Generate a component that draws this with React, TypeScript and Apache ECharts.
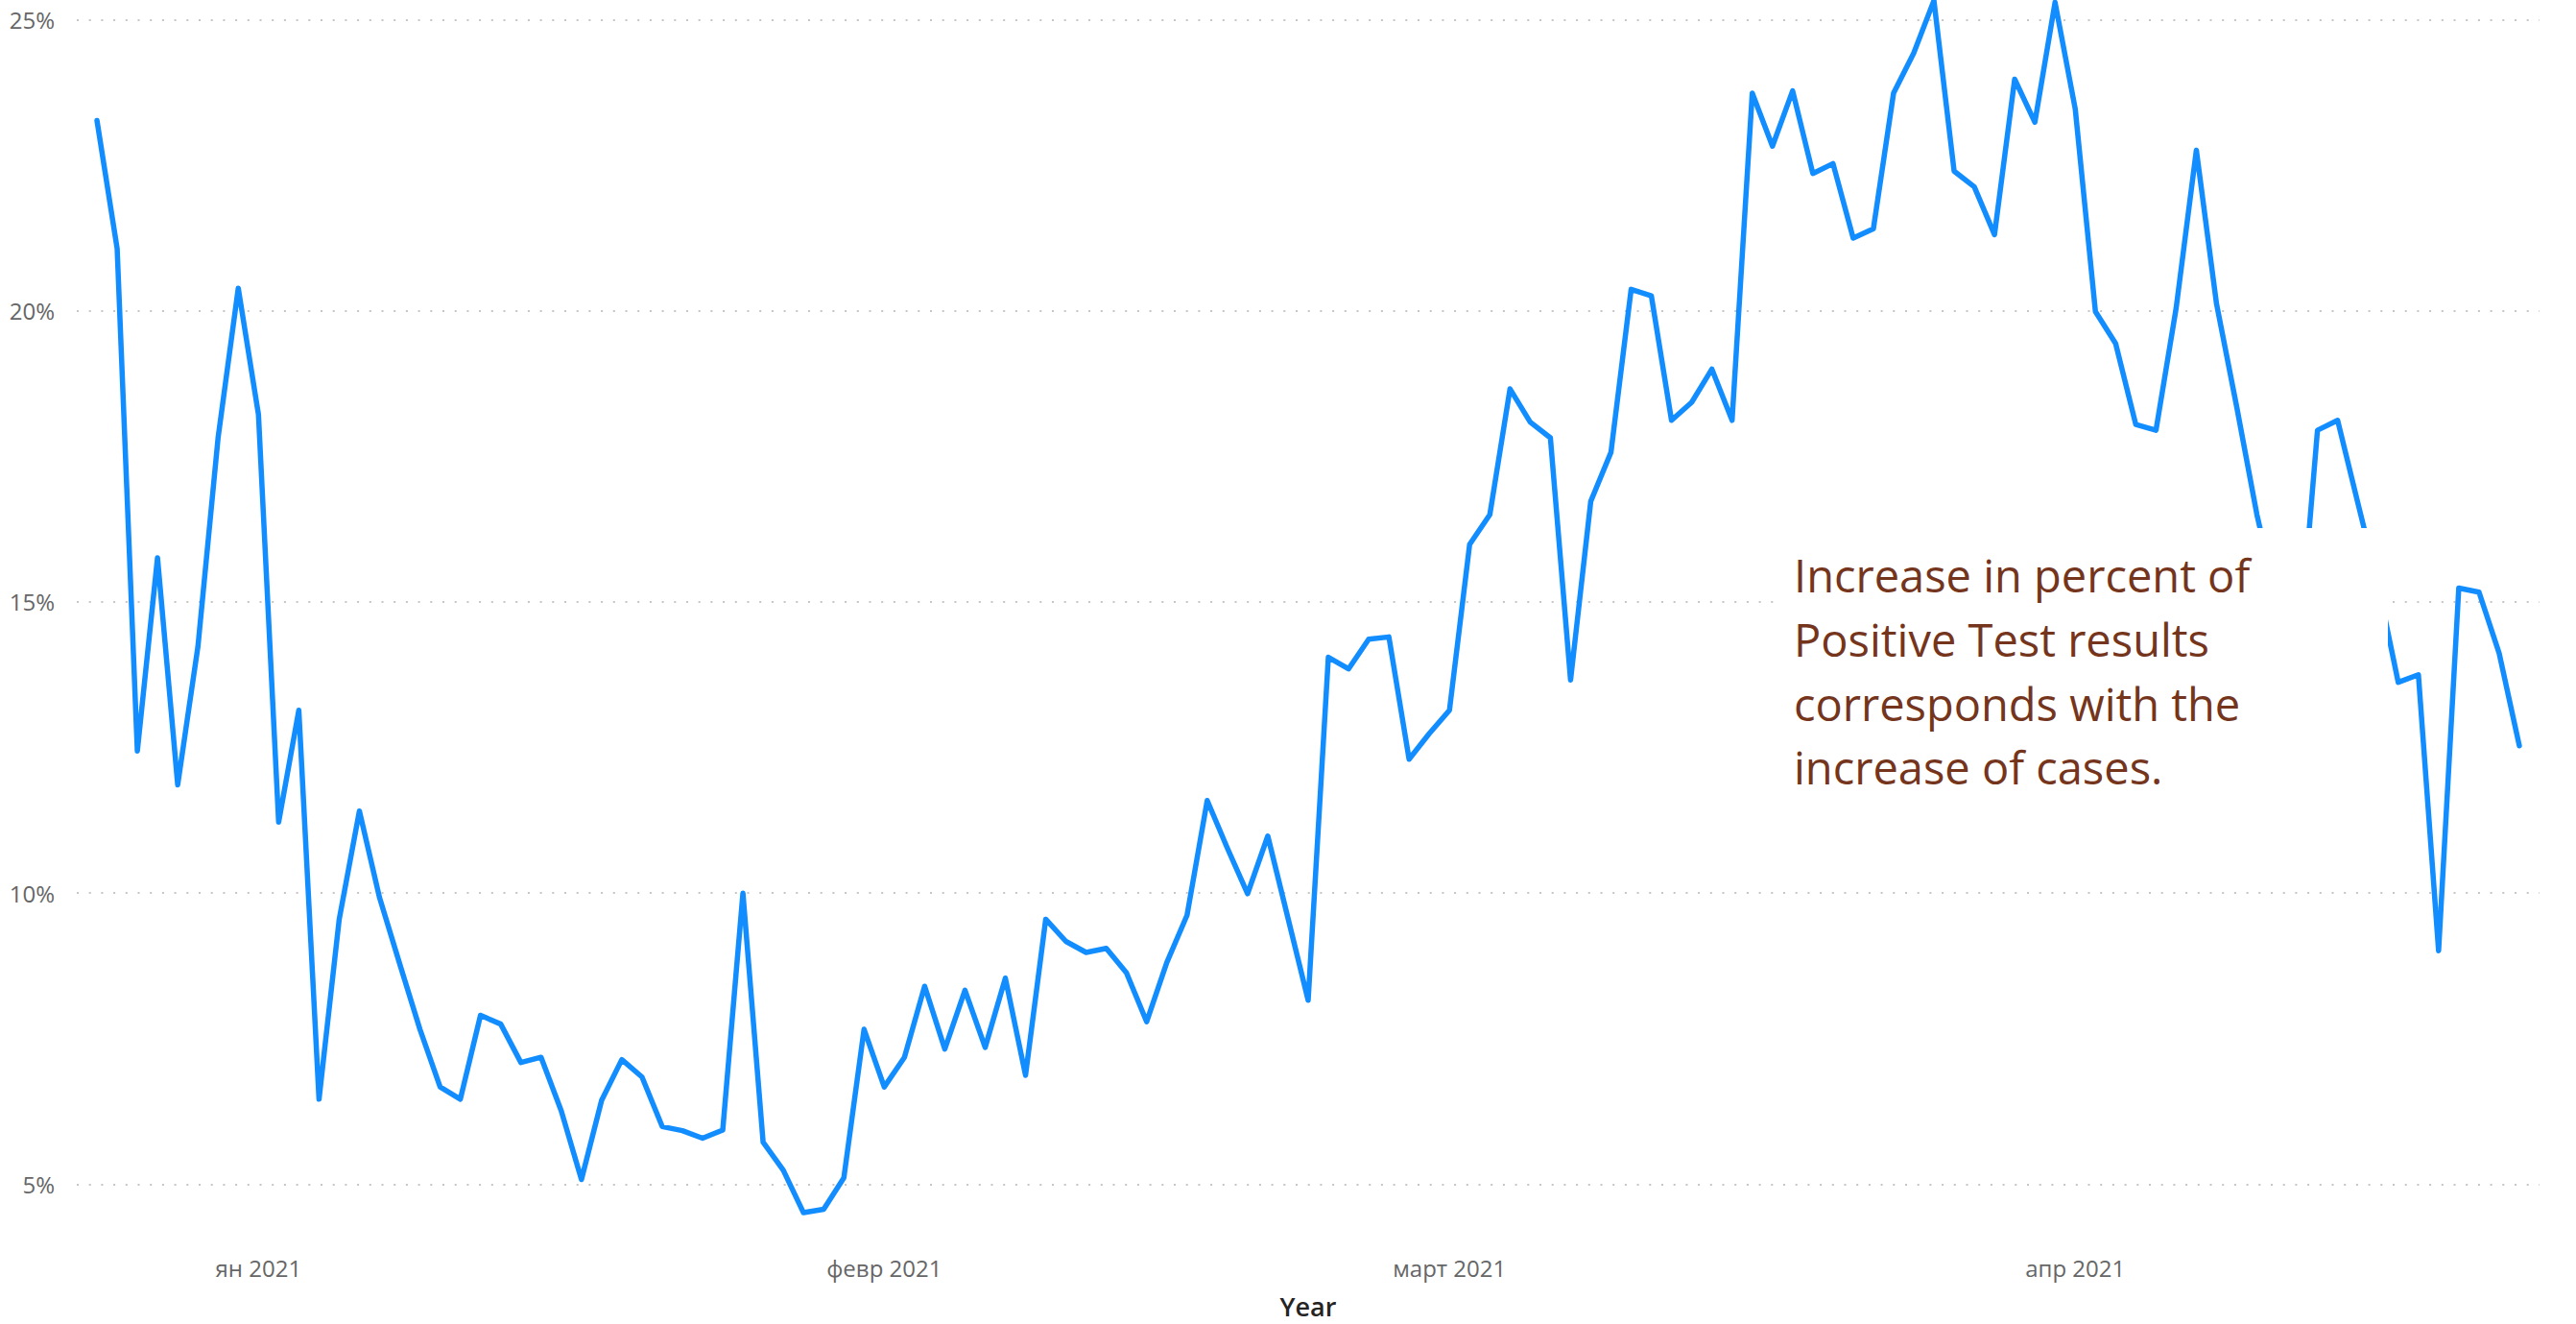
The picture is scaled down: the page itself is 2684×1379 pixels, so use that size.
import React, { useEffect, useRef } from "react";
import * as echarts from "echarts";

// Daily share of positive test results (%), starting 24 Dec 2020
const START_YEAR = 2020;
const START_MONTH = 11; // December (0-based)
const START_DAY = 24;

const positiveRate: number[] = [
  23.27, 21.07, 12.44, 15.76, 11.86, 14.23, 17.82, 20.39, 18.22, 11.22,
  13.14, 6.46, 9.55, 11.41, 9.92, 8.78, 7.66, 6.67, 6.46, 7.9,
  7.75, 7.09, 7.18, 6.26, 5.08, 6.44, 7.14, 6.84, 5.99, 5.92,
  5.79, 5.93, 10.0, 5.72, 5.24, 4.51, 4.57, 5.11, 7.66, 6.67,
  7.18, 8.4, 7.32, 8.33, 7.35, 8.54, 6.87, 9.55, 9.17, 8.98,
  9.05, 8.63, 7.79, 8.81, 9.62, 11.59, 10.77, 9.99, 10.98, 9.57,
  8.16, 14.05, 13.85, 14.36, 14.4, 12.3, 12.74, 13.14, 15.99, 16.5,
  18.66, 18.09, 17.82, 13.66, 16.73, 17.57, 20.37, 20.26, 18.12, 18.43,
  19.0, 18.12, 23.74, 22.83, 23.78, 22.36, 22.53, 21.25, 21.41, 23.74,
  24.43, 25.33, 22.4, 22.13, 21.31, 23.98, 23.24, 25.3, 23.47, 19.99,
  19.44, 18.05, 17.95, 20.05, 22.76, 20.12, 18.35, 16.5, 15.0, 13.8,
  17.95, 18.12, 16.7, 15.3, 13.62, 13.75, 9.01, 15.24, 15.17, 14.12,
  12.53,
];

const DAY_MS = 86400000;
const ORIGIN = new Date(2021, 0, 1).getTime();
const toDay = (t: number) => Math.round((t - ORIGIN) / DAY_MS);

const dates: number[] = positiveRate.map((_, i) =>
  new Date(START_YEAR, START_MONTH, START_DAY + i).getTime()
);

const monthTickDates: number[] = [
  new Date(2021, 0, 1).getTime(),
  new Date(2021, 1, 1).getTime(),
  new Date(2021, 2, 1).getTime(),
  new Date(2021, 3, 1).getTime(),
];
const monthTickLabels: string[] = ["ян 2021", "февр 2021", "март 2021", "апр 2021"];

const yGridTicks: number[] = [5, 10, 15, 20, 25];

const xAxisTitle = "Year";
const annotationLines: string[] = [
  "Increase in percent of",
  "Positive Test results",
  "corresponds with the",
  "increase of cases.",
];

const FONT = "'Segoe UI', 'Open Sans', sans-serif";

export default function App() {
  const ref = useRef<HTMLDivElement>(null);

  useEffect(() => {
    if (!ref.current) return;
    const chart = echarts.init(ref.current, undefined, { renderer: "svg" });
    const xMin = toDay(dates[0]) - 1;
    const xMax = toDay(dates[dates.length - 1]) + 1;
    const tickDays = monthTickDates.map(toDay);

    chart.setOption({
      animation: false,
      backgroundColor: "#ffffff",
      grid: { left: 80, right: 38, top: 0, bottom: 83, containLabel: false },
      xAxis: {
        type: "value",
        min: xMin,
        max: xMax,
        axisLine: { show: false },
        axisTick: { show: false },
        splitLine: { show: false },
        axisLabel: {
          customValues: tickDays,
          formatter: (v: number) => {
            const idx = tickDays.indexOf(Math.round(v));
            return idx >= 0 ? monthTickLabels[idx] : "";
          },
          color: "#666666",
          fontSize: 24,
          fontFamily: FONT,
          margin: 14,
          hideOverlap: false,
        },
        name: xAxisTitle,
        nameLocation: "middle",
        nameGap: 53,
        nameTextStyle: {
          color: "#252423",
          fontSize: 27,
          fontWeight: 600,
          fontFamily: FONT,
        },
      },
      yAxis: {
        type: "value",
        min: 4,
        max: 25.34,
        interval: 1,
        axisLine: { show: false },
        axisTick: { show: false },
        splitLine: { show: false },
        axisLabel: {
          formatter: (v: number) => {
            const r = Math.round(v);
            return Math.abs(v - r) < 1e-6 && yGridTicks.indexOf(r) >= 0 ? `${r}%` : "";
          },
          color: "#666666",
          fontSize: 24,
          fontFamily: FONT,
          margin: 23,
          showMaxLabel: false,
        },
      },
      series: [
        {
          type: "line",
          data: [],
          z: 1,
          silent: true,
          markLine: {
            silent: true,
            symbol: "none",
            label: { show: false },
            lineStyle: { color: "#C8C6C4", width: 2, type: [2, 10.7] },
            data: yGridTicks.map((v) => ({ yAxis: v })),
          },
        },
        {
          type: "line",
          z: 10,
          data: dates.map((d, i) => [toDay(d), positiveRate[i]]),
          showSymbol: false,
          smooth: false,
          clip: false,
          lineStyle: { color: "#118DFF", width: 5.5, cap: "round", join: "round" },
          itemStyle: { color: "#118DFF" },
        },
      ],
      graphic: [
        {
          type: "rect",
          z: 100,
          shape: { x: 1857, y: 550, width: 631, height: 350 },
          style: { fill: "#ffffff" },
        },
        {
          type: "text",
          z: 101,
          x: 1869,
          y: 566,
          style: {
            text: annotationLines.join("\n"),
            fill: "#75351C",
            fontSize: 47,
            fontFamily: FONT,
            lineHeight: 66.7,
            align: "left",
            verticalAlign: "top",
          },
        },
      ],
    });

    return () => chart.dispose();
  }, []);

  return (
    <div
      ref={ref}
      style={{ position: "fixed", left: 0, top: 0, width: 2684, height: 1379, background: "#fff" }}
    />
  );
}
